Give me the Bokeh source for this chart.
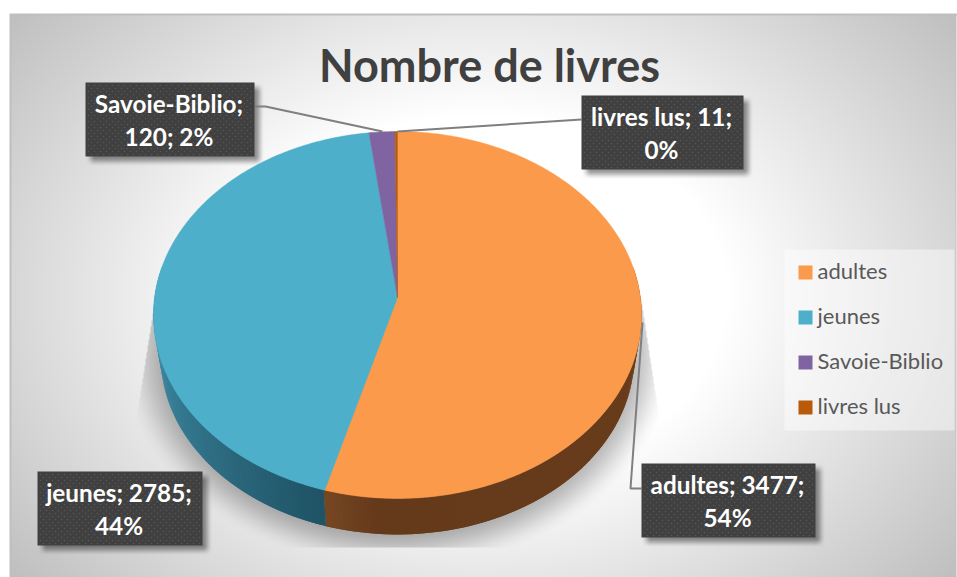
import numpy as np
from bokeh.plotting import figure
from bokeh.embed import file_html
from bokeh.resources import INLINE
from bokeh.core.properties import value

# ---- data ----
categories = ["adultes", "jeunes", "Savoie-Biblio", "livres lus"]
values = [3477, 2785, 120, 11]
percents = ["54%", "44%", "2%", "0%"]
colors = ["#fb9a4a", "#4dafca", "#8064a2", "#b85a0a"]
title = "Nombre de livres"

# label text lines, built from the data
labels_l1 = ["adultes; 3477;", "jeunes; 2785;", "Savoie-Biblio;", "livres lus; 11;"]
labels_l2 = ["54%", "44%", "120; 2%", "0%"]

# ---- layout (page pixels) ----
PW, PH = 957, 577
OX, OY = 0, 0
def Y(py):
    return 577 - np.asarray(py, dtype=float)

boxes = [(641, 463, 815, 537), (37, 471, 202, 545), (85, 82, 254, 156), (581, 95, 743, 169)]
leaders = [
    ([641, 630, 642], [488, 488, 322]),
    None,
    ([254, 265, 382], [106, 106, 131]),
    ([581, 397], [119, 131]),
]

# pie geometry: perspective view of a disc
CX, CY, A, B, K = 397.0, 297.0, 242.9, 181.8, 0.0954
S, DY = 0.97, 42.0
def top_ring(theta):
    u, v = np.sin(theta), np.cos(theta)
    w = 1 + K * v
    return CX + A * u / w, CY - B * v / w
def low_ring(theta):
    x, y = top_ring(theta)
    return CX + S * (x - CX), CY + S * (y - CY) + DY

# ---- background + soft shadows as one raster ----
xs = np.arange(OX, OX + PW) + 0.5
ys = np.arange(OY, OY + PH) + 0.5
XX, YY = np.meshgrid(xs, ys)
r = np.sqrt(((XX - 482) / 474) ** 2 + ((YY - 295) / 350) ** 2)
grey = 1 - 0.25 * np.clip((r - 0.52) / 0.76, 0, None)

def sstep(t):
    t = np.clip(t, 0, 1)
    return t * t * (3 - 2 * t)

# pie shadow
d = (np.sqrt(((XX - 397) / 240) ** 2 + ((YY - 352) / 187) ** 2) - 1) * 200
sh = 0.30 * (1 - sstep((d + 12) / 44))
left_edge = np.where(YY < 413, 153 - (YY - 310) * 16 / 103, 137)
right_edge = np.where(YY < 413, 641 + (YY - 300) * 17 / 113, 658)
mask = (XX > left_edge) & (XX < right_edge) & (YY > 300) & (YY < 547)
grey = grey * (1 - sh * mask)

# label shadows
for (x0, y0, x1, y1) in boxes:
    ax = sstep((XX - (x0 + 5) + 5) / 10) * (1 - sstep((XX - (x1 + 5) + 5) / 10))
    ay = sstep((YY - (y0 + 5) + 5) / 10) * (1 - sstep((YY - (y1 + 5) + 5) / 10))
    grey = grey * (1 - 0.42 * ax * ay)

g8 = (np.clip(grey, 0, 1) * 255).astype(np.uint8)
rgba = np.zeros((PH, PW), dtype=np.uint32)
view = rgba.view(np.uint8).reshape((PH, PW, 4))
view[..., 0] = g8
view[..., 1] = g8
view[..., 2] = g8
view[..., 3] = 255
# chart frame border and white page area
outside = (XX < 9) | (YY < 13) | (XX > 956)
view[outside] = (255, 255, 255, 255)
frame = ((XX >= 9) & (XX < 11) & (YY >= 13)) | ((YY >= 13) & (YY < 15) & (XX >= 9)) | ((XX >= 955) & (XX <= 956) & (YY >= 13))
view[frame] = (191, 191, 191, 255)

p = figure(width=PW, height=PH, x_range=(OX, OX + PW), y_range=(OY, OY + PH),
           toolbar_location=None, output_backend="svg", min_border=0,
           x_axis_type=None, y_axis_type=None, outline_line_color=None,
           background_fill_color="white", border_fill_color="white")
p.grid.visible = False
p.image_rgba(image=[np.flipud(rgba)], x=OX, y=OY, dw=PW, dh=PH)

# ---- pie ----
vals = np.array(values, dtype=float)
ends = np.cumsum(vals) / vals.sum() * 2 * np.pi
starts = np.r_[0, ends[:-1]]

# wall, as thin coloured quads
def mix(c0, c1, t):
    a = np.array(c0, float); b = np.array(c1, float)
    c = a + (b - a) * t
    return "#%02x%02x%02x" % tuple(int(round(q)) for q in c)

wall_x, wall_y, wall_c = [], [], []
grid = np.radians(np.arange(80, 281, 1.0))
seam = ends[0]
for t0, t1 in zip(grid[:-1], grid[1:]):
    tm = 0.5 * (t0 + t1)
    if tm < seam:
        f = (tm - np.radians(80)) / (seam - np.radians(80))
        c = mix((106, 61, 27), (100, 58, 27), min(1, f / 0.9)) if f < 0.9 else mix((100, 58, 27), (118, 70, 33), (f - 0.9) / 0.1)
    else:
        f = (tm - seam) / (np.radians(280) - seam)
        c = mix((31, 82, 100), (66, 146, 172), min(1, f / 0.85))
    # overlap each quad into the next one so no seams show
    t1o = t1 + np.radians(1.0) if tm + np.radians(1.0) < (seam if tm < seam else grid[-1]) else t1
    x0, y0 = top_ring(t0); x1, y1 = top_ring(t1o)
    x2, y2 = low_ring(t1o); x3, y3 = low_ring(t0)
    wall_x.append([x0, x1, x2, x3]); wall_y.append(list(Y([y0, y1, y2, y3]))); wall_c.append(c)
p.patches(wall_x, wall_y, fill_color=wall_c, line_color=None)

# top face
for s, e, c in zip(starts, ends, colors):
    th = np.linspace(s, e, max(3, int((e - s) / np.radians(0.5))))
    x, y = top_ring(th)
    p.patch(np.r_[CX, x], Y(np.r_[CY, y]), fill_color=c, line_color=c, line_width=0.5)

# ---- leader lines ----
for l in leaders:
    if l is not None:
        p.line(l[0], Y(l[1]), line_color="#7f7f7f", line_width=2)

# ---- data labels ----
for (x0, y0, x1, y1), t1, t2 in zip(boxes, labels_l1, labels_l2):
    p.quad(left=x0, right=x1, top=Y(y0), bottom=Y(y1), fill_color="#404040", line_color=None)
    gx, gy, row = [], [], 0
    yy = y0 + 3
    while yy < y1 - 1:
        xx = x0 + (3 if row % 2 == 0 else 6)
        while xx < x1 - 1:
            gx.append(xx); gy.append(yy); xx += 6
        yy += 3; row += 1
    p.scatter(gx, Y(gy), size=1.6, marker="circle", fill_color="#565656", line_color=None)
    cx = 0.5 * (x0 + x1)
    p.text([cx - 1], Y([y0 + 21]), text=[t1], text_font=value("Lato"), text_font_style="bold",
           text_font_size="24.3px", text_color="white", text_align="center", text_baseline="middle")
    p.text([cx - 1], Y([y0 + 54]), text=[t2], text_font=value("Lato"), text_font_style="bold",
           text_font_size="24.3px", text_color="white", text_align="center", text_baseline="middle")

# ---- title ----
p.text([489], Y([64]), text=[title], text_font=value("Lato"), text_font_style="bold",
       text_font_size="45px", text_color="#404040", text_align="center", text_baseline="middle")

# ---- legend ----
p.quad(left=784, right=954, top=Y(249), bottom=Y(430), fill_color="white", fill_alpha=0.45, line_color=None)
for i, (cat, c) in enumerate(zip(categories, colors)):
    yc = 272 + 45 * i
    p.quad(left=798, right=812, top=Y(yc - 7), bottom=Y(yc + 7), fill_color=c, line_color=None)
    p.text([817], Y([yc - 2]), text=[cat], text_font=value("Lato"), text_font_size="22px",
           text_color="#595959", text_align="left", text_baseline="middle")

open("out.html", "w").write(file_html(p, INLINE))
